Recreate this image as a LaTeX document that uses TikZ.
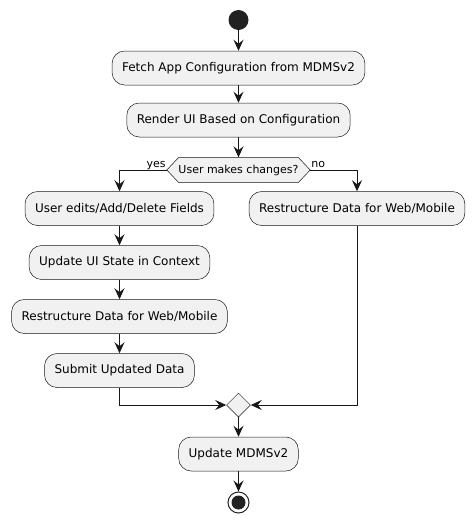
\documentclass[tikz,border=0pt]{standalone}
\usepackage{fontspec}
\setmainfont{DejaVu Sans}
\usetikzlibrary{shapes.geometric,arrows.meta}
\definecolor{boxfill}{HTML}{F1F1F1}
\definecolor{ink}{HTML}{181818}
\definecolor{dot}{HTML}{222222}
\begin{document}
\begin{tikzpicture}[x=1pt,y=-1pt,
  act/.style={draw=ink,fill=boxfill,line width=0.5pt,rounded corners=12.5pt,
    minimum height=34pt,inner xsep=10pt,inner ysep=0pt,font=\fontsize{12}{14}\selectfont},
  flow/.style={draw=ink,line width=1pt,-{Stealth[length=11pt,width=10pt,inset=4pt]}},
  lbl/.style={font=\fontsize{11}{13}\selectfont,inner sep=0pt},
  merge/.style={diamond,draw=ink,fill=boxfill,line width=0.5pt,minimum size=24pt,inner sep=0pt}]
\useasboundingbox (0,0) rectangle (475,523);
\node[circle,fill=dot,minimum size=20pt,inner sep=0pt] (start) at (238.5,20) {};
\node[act] (fetch) at (238.5,68) {Fetch App Configuration from MDMSv2};
\node[act] (render) at (238.5,120) {Render UI Based on Configuration};
\node[inner sep=0pt,minimum width=119pt,minimum height=25pt] (dec) at (238.5,170) {};
\draw[draw=ink,fill=boxfill,line width=0.5pt] (dec.north west) -- (dec.north east) -- ([xshift=12pt]dec.east) -- (dec.south east) -- (dec.south west) -- ([xshift=-12pt]dec.west) -- cycle;
\node[inner sep=0pt,font=\fontsize{11}{13}\selectfont] (dectext) at (dec.center) {User makes changes?};
\coordinate (dl) at ([xshift=-12pt]dec.west);
\coordinate (dr) at ([xshift=12pt]dec.east);
\node[lbl,anchor=base east] (yes) at ([xshift=-1pt,yshift=3pt]dl) {yes};
\node[lbl,anchor=base west] (no) at ([xshift=1pt,yshift=3pt]dr) {no};
\node[act] (ue) at (119.5,208.5) {User edits/Add/Delete Fields};
\node[act] (uu) at (119.5,262.5) {Update UI State in Context};
\node[act] (rl) at (119.5,316.5) {Restructure Data for Web/Mobile};
\node[act] (sub) at (119.5,370.5) {Submit Updated Data};
\node[act] (rr) at (357,208.5) {Restructure Data for Web/Mobile};
\node[merge] (m) at (238.5,405) {};
\node[act] (upd) at (238.5,454) {Update MDMSv2};
\node[circle,draw=dot,fill=white,line width=1pt,minimum size=21pt,inner sep=0pt] (end) at (238.5,502.5) {};
\node[circle,fill=dot,minimum size=14pt,inner sep=0pt] (endin) at (end.center) {};
\draw[flow] (start) -- (fetch);
\draw[flow] (fetch) -- (render);
\draw[flow] (render) -- (dec.north);
\draw[flow] (dl) -| (ue.north);
\draw[flow] (dr) -| (rr.north);
\draw[flow] (ue) -- (uu);
\draw[flow] (uu) -- (rl);
\draw[flow] (rl) -- (sub);
\draw[flow] (sub.south) |- (m.west);
\draw[flow] (rr.south) |- (m.east);
\draw[flow] (m) -- (upd);
\draw[flow] (upd) -- (end);
\end{tikzpicture}
\end{document}
